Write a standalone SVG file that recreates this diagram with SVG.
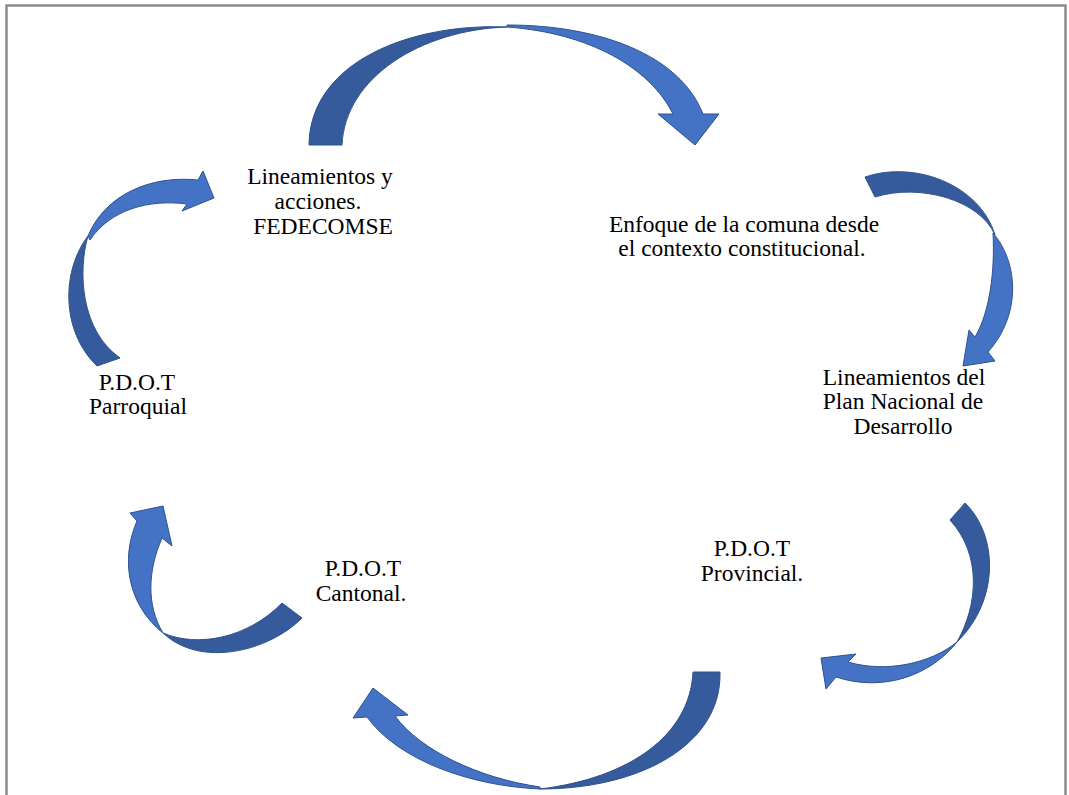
<svg xmlns="http://www.w3.org/2000/svg" width="1069" height="795" viewBox="0 0 1069 795">
<style>
.dark{fill:#355B9C;stroke:#2F528F;stroke-width:1;stroke-linejoin:round}
.light{fill:#4472C4;stroke:#2F528F;stroke-width:1;stroke-linejoin:round}
text{font-family:'Liberation Serif','DejaVu Serif',serif;font-size:23.5px;fill:#000;text-anchor:middle}
</style>
<rect x="0" y="0" width="1069" height="795" fill="#fff"/>
<rect x="6.5" y="5.5" width="1059" height="810" fill="none" stroke="#8c8c8c" stroke-width="2.5"/>
<g id="connectors">
  <g id="arrow-top">
    <path class="dark" d="M309,145 L342,145 C345,78 420,30 507,27 C410,23 310,62 309,145 Z"/>
    <path class="light" d="M507,25 C600,25 680,55 703,114 L719,114 L695,145 L658,114 L673,114 C650,68 590,33 507,27 Z"/>
  </g>
  <g id="arrow-top-right">
    <path class="dark" d="M865,177 C915,160 980,185 995,235 C980,200 920,183 875,197 Z"/>
    <path class="light" d="M993,233 C1018,262 1022,314 988,352 L995,361 L963,366 L969,330 L975,337 C990,312 995,270 993,233 Z"/>
  </g>
  <g id="arrow-bottom-right">
    <path class="dark" d="M965,503 C998,535 1000,600 957,642 C978,605 982,555 950,520 Z"/>
    <path class="light" d="M957,642 C932,674 885,693 836,677 L826,689 L821,658 L856,654 L848,662 C885,673 930,664 957,642 Z"/>
  </g>
  <g id="arrow-bottom">
    <path class="dark" d="M720,672 C722,745 640,789 540,789 C630,778 690,735 693,672 Z"/>
    <path class="light" d="M540,789 C470,786 398,760 367,717 L353,718 L373,688 L408,715 L395,716 C420,750 478,778 540,787 Z"/>
  </g>
  <g id="arrow-bottom-left">
    <path class="dark" d="M302,618 C268,652 200,668 163,633 C198,648 248,638 282,603 Z"/>
    <path class="light" d="M163,633 C128,605 120,560 137,521 L130,513 L163,506 L172,546 L162,538 C148,570 146,605 163,633 Z"/>
  </g>
  <g id="arrow-top-left">
    <path class="dark" d="M97,366 C60,330 62,270 88,236 C78,270 80,330 120,358 Z"/>
    <path class="light" d="M88,236 C105,195 150,175 198,180 L203,171 L214,198 L182,211 L187,204 C148,199 110,210 90,240 Z"/>
  </g>
</g>
<g id="node-fedecomse">
  <text x="320" y="184">Lineamientos y</text>
  <text x="318" y="209">acciones.</text>
  <text x="323" y="234">FEDECOMSE</text>
</g>
<g id="node-enfoque">
  <text x="744" y="232">Enfoque de la comuna desde</text>
  <text x="742" y="256">el contexto constitucional.</text>
</g>
<g id="node-plan-nacional">
  <text x="904" y="385">Lineamientos del</text>
  <text x="903" y="409">Plan Nacional de</text>
  <text x="903" y="434">Desarrollo</text>
</g>
<g id="node-provincial">
  <text x="752" y="556">P.D.O.T</text>
  <text x="752" y="581">Provincial.</text>
</g>
<g id="node-cantonal">
  <text x="363" y="576">P.D.O.T</text>
  <text x="361" y="601">Cantonal.</text>
</g>
<g id="node-parroquial">
  <text x="137" y="390">P.D.O.T</text>
  <text x="138" y="414">Parroquial</text>
</g>
</svg>
